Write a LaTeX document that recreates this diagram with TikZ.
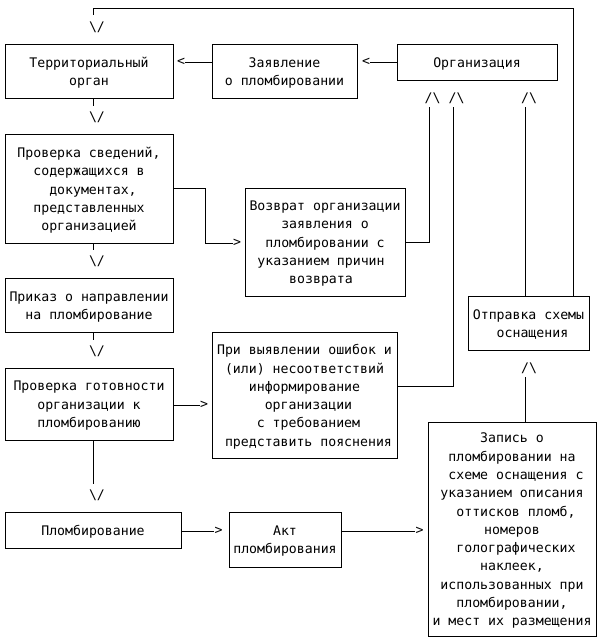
\documentclass[tikz,border=0pt]{standalone}
\usepackage{fontspec}
\newfontfamily\dmono{DejaVu Sans Mono}
\newcommand\txtfont{\dmono\fontsize{9.9}{13.7}\selectfont}
\newcommand\lsp{\hphantom{x}}
\newcommand\bx[6]{\node[box, minimum width={(#4-#2)*0.75pt}, minimum height={(#5-#3)*0.75pt}] (#1) at ({(#2+#4)/2},{(#3+#5)/2}) {};
  \node[boxtext] (#1-text) at ([yshift=-1.3pt]#1.center) {#6};}
\tikzset{
  box/.style={draw, line width=0.75pt, inner sep=0pt},
  boxtext/.style={inner sep=0pt, align=center, font=\txtfont},
  glyph/.style={inner sep=0pt, font=\txtfont},
  conn/.style={line width=0.75pt},
}
\begin{document}
\begin{tikzpicture}[x=0.75pt,y=-0.75pt]
\useasboundingbox[fill=white] (0,0) rectangle (604,644);
% boxes
\bx{terr}{5}{44}{173}{98}{Территориальный\\орган}
\bx{zay}{212}{44}{357}{98}{Заявление\\о пломбировании}
\bx{org}{397}{44}{557}{80}{Организация}
\bx{prov}{5}{134}{173}{243}{Проверка сведений,\\содержащихся в\\\lsp документах,\\представленных\\организацией}
\bx{vozv}{245}{188}{405}{296}{Возврат организации\\заявления о\\пломбировании с\\указанием причин\lsp\\возврата\lsp}
\bx{prik}{5}{278}{173}{332}{Приказ о направлении\\на пломбирование}
\bx{otpr}{468}{296}{589}{350}{Отправка схемы\\\lsp оснащения}
\bx{gotov}{5}{368}{173}{440}{Проверка готовности\\организации к\\пломбированию}
\bx{vyyav}{212}{332}{397}{458}{При выявлении ошибок и\\(или) несоответствий\\информирование\\\lsp организации\\\lsp с требованием\\\lsp представить пояснения}
\bx{zap}{428}{422}{596}{636}{Запись о\\пломбировании на\\\lsp схеме оснащения с\\указанием описания\\\lsp оттисков пломб,\\номеров\\\lsp голографических\\наклеек,\\использованных при\\пломбировании,\\и мест их размещения}
\bx{plomb}{5}{512}{181}{548}{Пломбирование}
\bx{akt}{229}{512}{341}{567}{Акт\\пломбирования}

% arrow glyphs
\node[glyph] (gd1) at (97,27) {\textbackslash/};
\node[glyph] (gd2) at (97,117) {\textbackslash/};
\node[glyph] (gd3) at (97,261) {\textbackslash/};
\node[glyph] (gd4) at (97,351) {\textbackslash/};
\node[glyph] (gd5) at (97,495) {\textbackslash/};
\node[glyph] (gu1) at (432.5,98) {/\textbackslash};
\node[glyph] (gu2) at (456.5,98) {/\textbackslash};
\node[glyph] (gu3) at (529,98) {/\textbackslash};
\node[glyph] (gu4) at (529,368) {/\textbackslash};
\node[glyph] (gl1) at (181,62) {<};
\node[glyph] (gl2) at (366,62) {<};
\node[glyph] (gr1) at (237,243) {>};
\node[glyph] (gr2) at (204,405) {>};
\node[glyph] (gr3) at (218.5,531) {>};
\node[glyph] (gr4) at (419.5,531) {>};

% coordinates
\coordinate (t1) at (573,8);
\coordinate (t2) at (93,8);
\coordinate (t3) at (93,15);
\coordinate (s2) at (93,106);
\coordinate (s3) at (93,250);
\coordinate (s4) at (93,340);
\coordinate (s5) at (93,484);
\coordinate (u1) at (429,107);
\coordinate (u1b) at (429,242);
\coordinate (u2) at (453,107);
\coordinate (u2b) at (453,386);
\coordinate (u3) at (525,107);
\coordinate (u4) at (525,377);
\coordinate (r1a) at (205,188.5);
\coordinate (r1b) at (205,243);

% connectors
\draw[conn] (otpr.north -| t1) -- (t1) -- (t2) -- (t3);
\draw[conn] (terr.south -| s2) -- (s2);
\draw[conn] (prov.south -| s3) -- (s3);
\draw[conn] (prik.south -| s4) -- (s4);
\draw[conn] (gotov.south -| s5) -- (s5);
\draw[conn] (zay.west |- gl1) -- (gl1.east);
\draw[conn] (org.west |- gl2) -- (gl2.east);
\draw[conn] (vozv.east |- u1b) -- (u1b) -- (u1);
\draw[conn] (vyyav.east |- u2b) -- (u2b) -- (u2);
\draw[conn] (otpr.north -| u3) -- (u3);
\draw[conn] (zap.north -| u4) -- (u4);
\draw[conn] (prov.east |- r1a) -- (r1a) -- (r1b) -- (gr1.west);
\draw[conn] (gotov.east |- gr2) -- (gr2.west);
\draw[conn] (plomb.east |- gr3) -- (gr3.west);
\draw[conn] (akt.east |- gr4) -- (gr4.west);
\end{tikzpicture}
\end{document}
